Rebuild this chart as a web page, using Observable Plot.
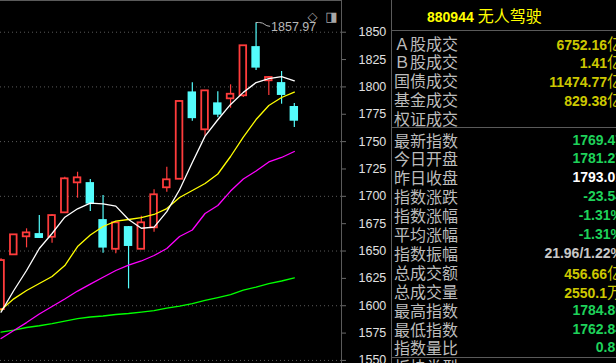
<!DOCTYPE html>
<html><head><meta charset="utf-8">
<script src="https://cdn.jsdelivr.net/npm/d3@7"></script>
<script src="https://cdn.jsdelivr.net/npm/@observablehq/plot@0.6"></script>
<style>
html,body{margin:0;padding:0;background:#000;}
#wrap{position:relative;width:616px;height:363px;overflow:hidden;background:#000;}
#chart{position:absolute;left:0;top:0;}
#chart svg{display:block;}
#panel{position:absolute;left:391px;top:0;width:225px;height:363px;border-left:1px solid #5a5a5a;overflow:hidden;}
.hl{position:absolute;left:0;width:240px;height:0;border-top:1px solid #5a5a5a;}
.row{position:absolute;left:0;width:225px;height:19px;line-height:19px;white-space:nowrap;}
.lab{position:absolute;left:2px;top:0;font-family:"Noto Sans CJK SC";font-size:16px;color:#bcbcbc;}
.val{position:absolute;right:-6px;top:0;font-family:"Liberation Sans";font-weight:bold;font-size:14px;}
.unit{font-family:"Noto Sans CJK SC";font-weight:normal;font-size:16px;}
.title{position:absolute;left:35px;top:5px;line-height:20px;color:#ffff00;white-space:nowrap;}
.title b{font-family:"Liberation Sans";font-weight:bold;font-size:14px;}
.title span{font-family:"Noto Sans CJK SC";font-size:16px;}
</style></head>
<body>
<div id="wrap"><div id="chart"></div><div id="panel"></div></div>
<script>
// ---- candle data (index 0 = leftmost, partially visible) ----
const idx   = d3.range(24);
const open  = [1596.5,1646.5,1663.0,1665.1,1662.6,1684.9,1712.3,1711.7,1677.9,1651.6,1671.5,1651.6,1671.2,1707.8,1715.6,1794.6,1760.8,1784.6,1789.1,1791.9,1836.0,1805.6,1803.1,1781.27];
const close = [1641.3,1664.8,1666.6,1662.3,1682.4,1716.0,1716.9,1693.7,1653.5,1675.8,1655.0,1675.8,1701.4,1715.1,1786.7,1771.8,1796.4,1775.0,1793.3,1837.6,1818.0,1808.6,1793.01,1769.47];
const high  = [1643.0,1664.8,1670.3,1682.4,1683.3,1717.5,1722.0,1715.4,1700.7,1675.8,1672.4,1681.8,1705.9,1726.6,1787.6,1803.7,1796.4,1795.5,1801.9,1837.6,1857.97,1809.5,1814.1,1784.80];
const low   = [1596.5,1646.5,1652.9,1662.0,1657.1,1684.9,1698.3,1686.1,1648.0,1647.4,1615.4,1651.6,1667.2,1703.7,1715.6,1768.6,1754.9,1771.8,1780.5,1790.3,1815.0,1792.1,1784.2,1762.84];
// ---- moving averages ----
const ma5  = [1594.1,1613.9,1632.2,1652.3,1666.0,1680.9,1688.6,1693.7,1693.1,1691.0,1678.8,1670.8,1671.8,1686.0,1706.0,1731.0,1755.0,1770.0,1784.0,1795.0,1804.0,1807.5,1809.5,1805.5];
const ma10 = [1596.1,1606.3,1613.9,1620.3,1626.7,1636.7,1654.1,1664.6,1672.4,1677.4,1678.8,1680.6,1683.4,1688.8,1698.9,1705.3,1711.7,1720.4,1736.4,1754.2,1770.2,1783.0,1790.3,1795.3];
const ma20 = [1570.0,1577.3,1584.6,1592.4,1599.3,1606.1,1613.4,1619.8,1626.0,1632.2,1637.2,1640.9,1645.9,1652.3,1663.3,1669.2,1684.3,1691.6,1704.8,1715.8,1723.1,1731.4,1735.5,1741.0];
const ma60 = [1575.8,1577.8,1580.1,1581.7,1583.7,1586.0,1588.3,1589.7,1590.6,1592.0,1592.9,1594.2,1595.6,1597.9,1599.7,1602.0,1604.8,1607.5,1610.2,1614.3,1617.1,1620.3,1622.6,1625.5];
const axisTicks = [1550,1575,1600,1625,1650,1675,1700,1725,1750,1775,1800,1825,1850];
const gridTicks = [1550,1600,1650,1700,1750,1800,1850];

// ---- info panel ----
const titleCode = "880944", titleName = "无人驾驶";
const labels1 = ["Ａ股成交","Ｂ股成交","国债成交","基金成交","权证成交"];
const values1 = ["6752.16","1.41","11474.77","829.38",""];
const units1  = ["亿","亿","亿","亿",""];
const labels2 = ["最新指数","今日开盘","昨日收盘","指数涨跌","指数涨幅","平均涨幅","指数振幅","总成交额","总成交量","最高指数","最低指数","指数量比","板块类型"];
const values2 = ["1769.47","1781.27","1793.01","-23.54","-1.31%","-1.31%","21.96/1.22%","456.66","2550.1","1784.80","1762.84","0.81",""];
const units2  = ["","","","","","","","亿","万","","","",""];
const kinds2  = ["g","g","w","g","g","g","n","y","y","g","g","g","n"];

const RED = "#ff3c3c", CYAN = "#54fcfc";
const COLORS = {g:"#1ed25a", w:"#ffffff", n:"#c8c8c8", y:"#cdc800"};

const data = idx.map(k => ({i:k, open:open[k], close:close[k], high:high[k], low:low[k], up: close[k] >= open[k]}));
const ser = (arr) => idx.map(k => ({i:k, v:arr[k]}));
const maxK = high.indexOf(d3.max(high));
const mx = [data[maxK]];

const chart = Plot.plot({
  width: 392, height: 363,
  marginLeft: 0, marginRight: 51, marginTop: 0, marginBottom: 0,
  style: {background:"#000", color:"#e0e0e0", fontFamily:"Liberation Sans, sans-serif", fontSize:"12.5px"},
  x: {domain:[-0.043, 26.70], axis:null},
  y: {domain:[1547.2, 1878.98], axis:null},
  color: {type:"identity"},
  marks: [
    Plot.gridY(gridTicks, {stroke:"#5a5a5a", strokeOpacity:1, strokeDasharray:"1,3"}),
    Plot.ruleX(data, {x:"i", y1:"low", y2:"high", stroke:d => d.up ? RED : CYAN, strokeWidth:1.2}),
    Plot.rect(data, {x1:d => d.i - 0.26, x2:d => d.i + 0.26, y1:"open", y2:"close",
      fill:d => d.up ? "#000" : CYAN, stroke:d => d.up ? RED : CYAN, strokeWidth:1.8}),
    Plot.line(ser(ma60), {x:"i", y:"v", stroke:"#00ff00", strokeWidth:1.3}),
    Plot.line(ser(ma20), {x:"i", y:"v", stroke:"#ff00ff", strokeWidth:1.3}),
    Plot.line(ser(ma10), {x:"i", y:"v", stroke:"#ffff00", strokeWidth:1.3}),
    Plot.line(ser(ma5),  {x:"i", y:"v", stroke:"#ffffff", strokeWidth:1.3}),
    Plot.ruleY(mx, {y:"high", x1:d => d.i, x2:d => d.i + 0.25, stroke:"#b8b8b8", strokeWidth:1, dy:-1}),
    Plot.link(mx, {x1:d => d.i + 0.25, y1:"high", x2:d => d.i + 1.1, y2:d => d.high - 3.5, curve:"bump-x", stroke:"#b8b8b8", strokeWidth:1, dy:-1}),
    Plot.text(mx, {x:"i", y:"high", text:d => d.high.toFixed(2), dx:15, dy:4, textAnchor:"start", fill:"#b8b8b8", fontSize:12.5}),
    Plot.text(["◇"], {text:d => d, frameAnchor:"top-right", dx:-29, dy:11, fill:"#a8a8a8", fontSize:13, fontFamily:"DejaVu Sans", textAnchor:"middle"}),
    Plot.text(["◨"], {text:d => d, frameAnchor:"top-right", dx:-10, dy:11, fill:"#a8a8a8", fontSize:13, fontFamily:"DejaVu Sans", textAnchor:"middle"}),
    Plot.axisY(axisTicks, {anchor:"right", tickSize:4, tickPadding:13, stroke:"#6a6a6a", fill:"#e0e0e0", tickFormat:d => String(d), fontSize:12.5}),
    Plot.frame({anchor:"right", stroke:"#5a5a5a"}),
    Plot.frame({anchor:"top", stroke:"#5a5a5a"})
  ]
});
document.getElementById("chart").appendChild(chart);

// build panel
const panel = document.getElementById("panel");
let html = `<div class="title"><b>${titleCode}</b> <span>${titleName}</span></div>`;
html += `<div class="hl" style="top:30px"></div><div class="hl" style="top:127px"></div><div class="hl" style="top:357px"></div>`;
const row = (cy, lab, val, unit, color) =>
  `<div class="row" style="top:${cy - 9.5}px"><span class="lab">${lab}</span>` +
  (val ? `<span class="val" style="color:${color}">${val}${unit ? `<span class="unit">${unit}</span>` : ""}</span>` : "") + `</div>`;
labels1.forEach((l, k) => { html += row(43 + k * 18.9, l, values1[k], units1[k], COLORS.y); });
labels2.forEach((l, k) => { html += row(140 + k * 18.9, l, values2[k], units2[k], COLORS[kinds2[k]]); });
panel.innerHTML = html;
</script>
</body></html>
